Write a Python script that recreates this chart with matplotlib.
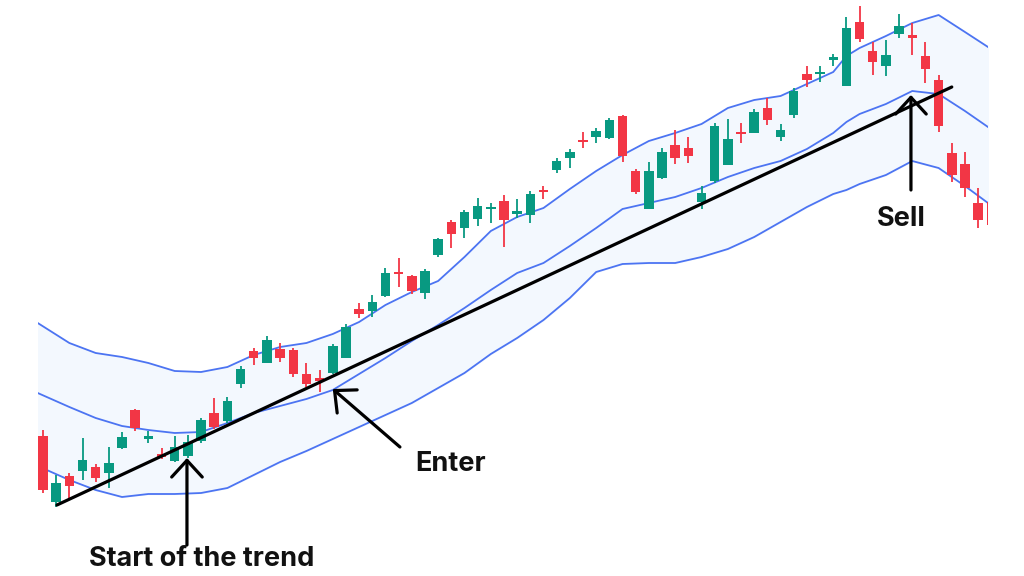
import numpy as np
import matplotlib.pyplot as plt

# candle data (price units), one candle per bar index
opens = [164, 98, 124, 129, 133, 127, 152, 190, 161, 146, 139, 144, 159, 187, 179, 216, 249, 237, 251, 250,
         226, 222, 227, 242, 291, 289, 304, 328, 324, 307, 345, 378, 372, 381, 391, 399, 386, 385, 410, 430,
         442, 460, 463, 462, 484, 429, 391, 422, 455, 452, 398, 419, 435, 468, 467, 492, 463, 485, 526, 526,
         540, 514, 578, 549, 534, 566, 565, 544, 520, 447, 436, 397, 398]
closes = [110, 117, 114, 140, 122, 137, 163, 172, 164, 143, 153, 158, 180, 173, 199, 231, 242, 260, 242, 226,
          216, 219, 254, 273, 286, 298, 327, 326, 309, 329, 361, 366, 388, 394, 393, 380, 389, 406, 408, 439,
          448, 458, 469, 480, 444, 408, 429, 448, 442, 444, 407, 474, 461, 466, 488, 480, 470, 509, 520, 528,
          543, 572, 561, 538, 545, 574, 562, 531, 474, 425, 412, 380, 375]
highs = [170, 125, 127, 162, 136, 153, 168, 191, 169, 152, 164, 165, 182, 202, 203, 234, 252, 264, 257, 252,
         237, 230, 256, 276, 297, 305, 332, 342, 325, 331, 362, 380, 390, 402, 397, 405, 401, 409, 414, 442,
         451, 468, 472, 482, 485, 431, 438, 452, 470, 463, 414, 477, 481, 477, 491, 502, 476, 512, 534, 534,
         546, 583, 594, 558, 560, 586, 577, 558, 525, 457, 448, 412, 410]
lows = [107, 93, 101, 120, 118, 112, 151, 169, 157, 141, 138, 142, 157, 171, 177, 212, 235, 237, 238, 223,
        213, 208, 226, 242, 282, 283, 303, 313, 306, 301, 343, 352, 362, 374, 377, 353, 382, 377, 401, 427,
        432, 452, 457, 461, 438, 406, 391, 421, 436, 437, 391, 417, 435, 457, 467, 475, 459, 482, 513, 518,
        534, 514, 558, 525, 524, 562, 545, 517, 468, 418, 403, 372, 372]

# bollinger bands
band_idx = [-0.4, 2, 4, 6, 8, 10, 12, 14, 16, 18, 20, 22, 24, 26, 28, 30, 32, 34, 36, 38, 40, 42, 44, 46, 48,
            50, 52, 54, 56, 58, 60, 61, 62, 64, 66, 68, 70, 71.75]
upper = [277, 257, 247, 243, 237, 229, 228, 233, 245, 253, 257, 266, 278, 295, 308, 319, 343, 369, 383, 392,
         411, 429, 445, 459, 467, 476, 492, 500, 504, 516, 528, 544, 552, 564, 577, 585, 568, 553]
middle = [207, 193, 182, 174, 170, 167, 168, 177, 187, 194, 201, 210, 226, 242, 259, 275, 292, 310, 327, 337,
          354, 372, 391, 397, 403, 412, 423, 432, 439, 451, 467, 478, 486, 496, 509, 506, 489, 473]
lower = [134, 120, 110, 103, 106, 106, 107, 112, 125, 138, 149, 161, 173, 185, 197, 212, 227, 246, 262, 280,
         302, 328, 336, 337, 337, 343, 351, 363, 378, 393, 406, 410, 416, 425, 439, 432, 414, 397]

# trend line drawn on the chart
trend_x = [1.06, 69.0]
trend_y = [95, 513]

GREEN = '#089981'
RED = '#F23645'
BLUE = '#4C74F2'

fig = plt.figure(figsize=(10.24, 5.76), dpi=100)
ax = fig.add_axes([38 / 1024, 0, 950 / 1024, 1])
ax.set_xlim(-0.38, 71.75)
ax.set_ylim(24, 600)
ax.axis('off')

ax.fill_between(band_idx, lower, upper, color='#F3F8FE', zorder=1)
for band in (upper, middle, lower):
    ax.plot(band_idx, band, color=BLUE, lw=1.3, zorder=2)

x = np.arange(len(opens))
o = np.array(opens)
c = np.array(closes)
colors = [GREEN if cc >= oo else RED for oo, cc in zip(o, c)]
ax.vlines(x, lows, highs, colors=colors, lw=1.3, zorder=3)
ax.bar(x, c - o, bottom=o, width=0.72, color=colors, zorder=4)

ax.plot(trend_x, trend_y, color='black', lw=2.3, solid_capstyle='round', zorder=6)

arrow = dict(arrowstyle='->,head_length=0.6,head_width=0.55', color='black', lw=2.3,
             mutation_scale=20, shrinkA=0, shrinkB=0)
font = dict(family=['Inter', 'DejaVu Sans'], fontweight='bold', fontsize=19.5, color='#111111')

ax.annotate('', xy=(10.93, 142), xytext=(10.93, 55), arrowprops=arrow, zorder=7, annotation_clip=False)
ax.text(12.07, 41, 'Start of the trend', ha='center', va='center', **font)

ax.annotate('', xy=(22.0, 211), xytext=(27.1, 153), arrowprops=arrow, zorder=7, annotation_clip=False)
ax.text(28.3, 136, 'Enter', ha='left', va='center', **font)

ax.annotate('', xy=(65.9, 505), xytext=(65.9, 410), arrowprops=arrow, zorder=7, annotation_clip=False)
ax.text(65.2, 381, 'Sell', ha='center', va='center', **font)

fig.savefig('out.png', dpi=100)
